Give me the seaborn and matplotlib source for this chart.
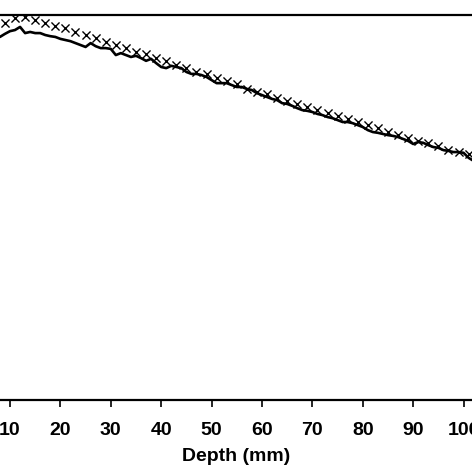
import numpy as np
import pandas as pd
import seaborn as sns
import matplotlib.pyplot as plt

# measured curve (solid line), depth in mm, relative dose in %
depth_line = list(range(8, 103))
dose_line = [94.3, 95.1, 95.8, 96.1, 96.9, 95.3, 95.6, 95.3, 95.3, 94.8,
             94.5, 94.3, 93.8, 93.5, 93.2, 92.7, 92.2, 91.7, 92.7, 91.9,
             91.4, 91.4, 91.2, 89.6, 90.1, 89.6, 89.1, 89.4, 88.8, 88.1,
             88.6, 87.5, 86.5, 86.2, 86.8, 86.5, 86.2, 85.2, 84.7, 84.7,
             84.4, 83.9, 83.1, 82.3, 82.3, 82.3, 81.8, 81.3, 81.3, 80.8,
             80.5, 79.7, 79.2, 78.7, 78.2, 77.9, 77.1, 76.9, 76.4, 75.8,
             75.3, 75.1, 74.8, 74.3, 74.0, 73.5, 73.2, 72.7, 72.2, 72.2,
             71.9, 71.4, 70.9, 70.1, 69.6, 69.4, 69.1, 68.8, 68.6, 68.3,
             67.8, 67.3, 66.5, 67.0, 66.8, 66.2, 65.7, 65.5, 64.9, 64.7,
             64.4, 64.4, 64.2, 62.9, 62.1]

# calculated points (crosses)
depth_cross = list(range(9, 102, 2))
dose_cross = [97.9, 99.2, 99.5, 98.7, 97.9, 97.1, 96.6, 95.6, 94.8, 94.0,
              93.0, 92.2, 91.4, 90.4, 89.9, 88.8, 88.1, 87.0, 86.2, 85.2,
              84.7, 83.6, 82.9, 82.1, 80.8, 80.0, 79.5, 78.4, 77.7, 76.9,
              76.1, 75.3, 74.5, 73.8, 73.0, 72.2, 71.4, 70.6, 69.6, 68.8,
              68.1, 67.3, 66.8, 66.0, 64.9, 64.4, 63.9]

xticks = [10, 20, 30, 40, 50, 60, 70, 80, 90, 100]

sns.set_style("ticks")
plt.rcParams['font.family'] = ['Liberation Sans', 'DejaVu Sans']

fig = plt.figure(figsize=(4.72, 4.72), dpi=100)
ax = fig.add_axes([0, 72 / 472, 1, 385 / 472])

line_df = pd.DataFrame({'depth': depth_line, 'dose': dose_line})
cross_df = pd.DataFrame({'depth': depth_cross, 'dose': dose_cross})

sns.lineplot(data=line_df, x='depth', y='dose', color='black', linewidth=1.9, ax=ax)
sns.scatterplot(data=cross_df, x='depth', y='dose', marker='x', color='black',
                s=34, linewidth=1.0, ax=ax, zorder=3)

ax.set_xlim(8.02, 101.67)
ax.set_ylim(0, 100)
ax.set_xticks(xticks)
ax.set_xticklabels([str(t) for t in xticks], fontsize=14, fontweight='bold')
ax.set_yticks([])
ax.set_ylabel('')
ax.set_xlabel('Depth (mm)', fontsize=14, fontweight='bold', labelpad=6, color='black')
ax.tick_params(axis='x', direction='out', length=5, width=1.2, pad=11, colors='black')

for side in ['left', 'right']:
    ax.spines[side].set_visible(False)
for side in ['top', 'bottom']:
    ax.spines[side].set_linewidth(1.6)
    ax.spines[side].set_color('black')

fig.savefig('out.png', dpi=100)
